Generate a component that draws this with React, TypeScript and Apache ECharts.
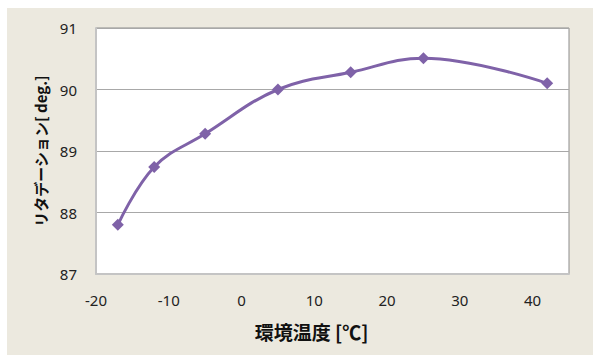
import React, { useEffect, useRef } from "react";
import * as echarts from "echarts";

// Ambient temperature [°C] and measured retardation [deg.]
const temperatures = [-17, -12, -5, 5, 15, 25, 42];
const retardation = [87.8, 88.74, 89.28, 90.0, 90.28, 90.51, 90.1];

const xTicks = { min: -20, max: 45, interval: 10 };
const yTicks = { min: 87, max: 91, interval: 1 };

const xTitle = "環境温度 [℃]";
const yTitle = "リタデーション[ deg.]";

export default function App() {
  const ref = useRef<HTMLDivElement>(null);

  useEffect(() => {
    if (!ref.current) return;
    const chart = echarts.init(ref.current, undefined, { renderer: "svg" });
    const labelFont = {
      color: "#222",
      fontSize: 15,
      fontFamily: "'Noto Sans', sans-serif",
    };
    chart.setOption({
      animation: false,
      backgroundColor: "#ffffff",
      graphic: [
        {
          type: "rect",
          z: -10,
          shape: { x: 7, y: 8, width: 586, height: 347 },
          style: { fill: "#ece9df" },
        },
      ],
      grid: {
        left: 96,
        right: 24,
        top: 28,
        bottom: 83,
        show: true,
        backgroundColor: "#ffffff",
        borderColor: "#8c8c8c",
        borderWidth: 1,
      },
      xAxis: {
        type: "value",
        min: xTicks.min,
        max: xTicks.max,
        interval: xTicks.interval,
        axisLine: {
          show: true,
          onZero: false,
          lineStyle: { color: "#c4c4c4", width: 2 },
        },
        axisTick: { show: false },
        splitLine: { show: false },
        axisLabel: {
          ...labelFont,
          margin: 18,
          showMaxLabel: false,
        },
        name: xTitle,
        nameLocation: "middle",
        nameGap: 48,
        nameTextStyle: {
          color: "#111",
          fontSize: 19,
          fontWeight: "bold",
          fontFamily: "'Noto Sans CJK JP', sans-serif",
          padding: [0, 42, 0, 0],
        },
      },
      yAxis: {
        type: "value",
        min: yTicks.min,
        max: yTicks.max,
        interval: yTicks.interval,
        axisLine: {
          show: true,
          onZero: false,
          lineStyle: { color: "#c4c4c4", width: 2 },
        },
        axisTick: { show: false },
        splitLine: { show: true, lineStyle: { color: "#a8a8a8", width: 1 } },
        axisLabel: { ...labelFont, margin: 19 },
        name: yTitle,
        nameLocation: "middle",
        nameRotate: 90,
        nameGap: 48,
        nameTextStyle: {
          color: "#111",
          fontSize: 15,
          fontWeight: "bold",
          fontFamily: "'Noto Sans CJK JP', sans-serif",
        },
      },
      series: [
        {
          type: "line",
          data: temperatures.map((t, i) => [t, retardation[i]]),
          smooth: 0.4,
          symbol: "diamond",
          symbolSize: 12,
          lineStyle: { color: "#7f62a8", width: 3 },
          itemStyle: { color: "#7f62a8" },
        },
      ],
    });
    return () => chart.dispose();
  }, []);

  return (
    <div
      ref={ref}
      style={{ position: "fixed", left: 0, top: 0, width: 593, height: 357 }}
    />
  );
}
